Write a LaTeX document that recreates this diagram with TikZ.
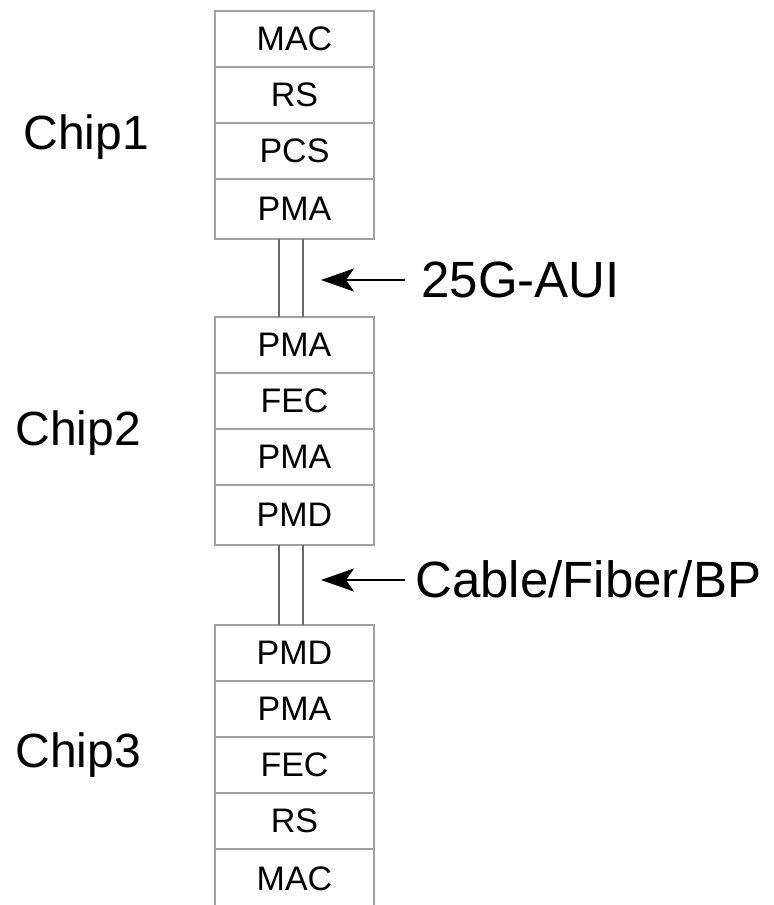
\documentclass[tikz,border=0pt]{standalone}
\usepackage{fontspec}
\setmainfont{Liberation Sans}
\usetikzlibrary{positioning,arrows.meta}
\definecolor{edge}{RGB}{160,160,160}
\definecolor{wire}{RGB}{105,105,105}

\begin{document}
\begin{tikzpicture}[x=0.5pt, y=-0.5pt,
      layer/.style={draw=edge, line width=1pt, minimum width=79.5pt,
        minimum height=28pt, inner sep=0pt, outer sep=0pt,
        font=\fontsize{17}{17}\selectfont},
      lastlayer/.style={layer, minimum height=30pt},
      chip/.style={font=\fontsize{24}{24}\selectfont, anchor=base west, inner sep=0pt},
      lbl/.style={font=\fontsize{25.5}{25.5}\selectfont, anchor=base west, inner sep=0pt},
      link/.style={wire, line width=1.25pt},
      arr/.style={-{Stealth[length=16.5pt, width=11.5pt, inset=4pt]}, line width=1pt, black}]
    \clip (0,0) rectangle (773,905);
    % Chip1
    \node[layer] (a1) at (294.5,39) {MAC};
    \node[layer, below=0pt of a1] (a2) {RS};
    \node[layer, below=0pt of a2] (a3) {PCS};
    \node[lastlayer, below=0pt of a3] (a4) {PMA};
    \node[chip] (chipa) at (23,149) {Chip1};
    % Chip2
    \node[layer] (b1) at (294.5,345) {PMA};
    \node[layer, below=0pt of b1] (b2) {FEC};
    \node[layer, below=0pt of b2] (b3) {PMA};
    \node[lastlayer, below=0pt of b3] (b4) {PMD};
    \node[chip] (chipb) at (15,445) {Chip2};
    % Chip3
    \node[layer] (c1) at (294.5,653) {PMD};
    \node[layer, below=0pt of c1] (c2) {PMA};
    \node[layer, below=0pt of c2] (c3) {FEC};
    \node[layer, below=0pt of c3] (c4) {RS};
    \node[lastlayer, below=0pt of c4] (c5) {MAC};
    \node[chip] (chipc) at (15,767) {Chip3};
    % links between the chips
    \draw[link] ([xshift=-7.75pt]a4.south) -- ([xshift=-7.75pt]b1.north);
    \draw[link] ([xshift=4.25pt]a4.south) -- ([xshift=4.25pt]b1.north);
    \draw[link] ([xshift=-7.75pt]b4.south) -- ([xshift=-7.75pt]c1.north);
    \draw[link] ([xshift=4.25pt]b4.south) -- ([xshift=4.25pt]c1.north);
    % labels
    \coordinate (auitip) at (321,280);
    \coordinate (mediatip) at (321,580);
    \node[lbl] (aui) at (421,297) {25G-AUI};
    \node[lbl] (media) at (415,597) {Cable/Fiber/BP};
    \draw[arr, shorten <=8pt] (aui.west |- auitip) -- (auitip);
    \draw[arr, shorten <=5pt] (media.west |- mediatip) -- (mediatip);
  \end{tikzpicture}
\end{document}
